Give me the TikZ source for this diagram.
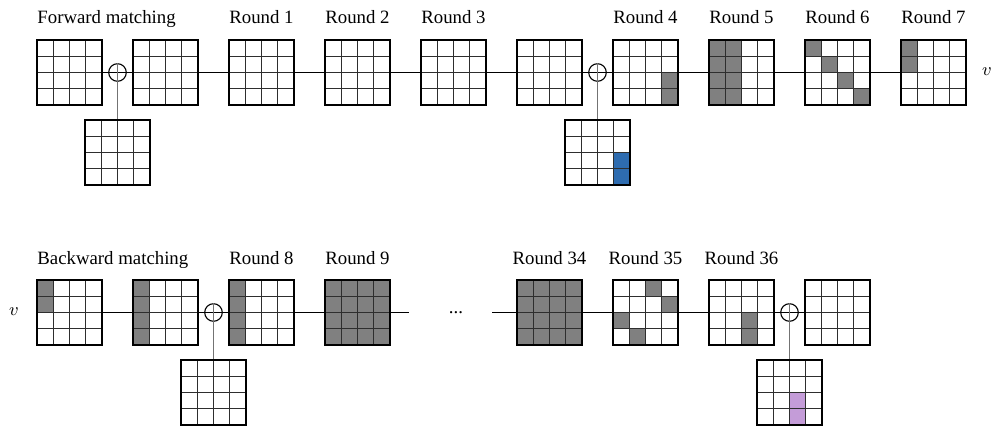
\documentclass[tikz,border=0pt]{standalone}
\usepackage{fontspec}
\setmainfont{Liberation Serif}
\usetikzlibrary{calc}
\definecolor{cellgray}{RGB}{128,128,128}
\definecolor{cellblue}{RGB}{46,108,176}
\definecolor{cellpurple}{RGB}{196,156,216}
\tikzset{
  gridbox/.style={rectangle,minimum width=32.5pt,minimum height=32.5pt,inner sep=0pt,outer sep=0pt,fill=white},
  innerline/.style={line width=0.65pt,draw=black!82},
  borderline/.style={line width=1.15pt,draw=black},
  xorbox/.style={circle,draw=black,line width=0.55pt,minimum size=8.8pt,inner sep=0pt},
  conn/.style={line width=0.5pt,draw=black},
  vconn/.style={line width=0.55pt,draw=black!55},
  lbl/.style={anchor=base,inner sep=0pt,font=\fontsize{9.4}{11}\selectfont},
  lblw/.style={anchor=base west,inner sep=0pt,font=\fontsize{9.4}{11}\selectfont},
}
\newcommand\gridnode[3]{%
  \node[gridbox] (#1) at (#2,#3) {};}
\newcommand\gridlines[1]{%
  \foreach \k in {1,2,3} {
    \draw[innerline] ($(#1.north west)+(\k*16.25,0)$) -- +(0,65);
    \draw[innerline] ($(#1.north west)+(0,\k*16.25)$) -- +(65,0);
  }
  \draw[borderline] (#1.north west) rectangle (#1.south east);}
\newcommand\cellat[4]{%
  \fill[#4] ($(#1.north west)+({(#2-1)*16.25},{(#3-1)*16.25})$) rectangle +(16.25,16.25);}
\begin{document}
\begin{tikzpicture}[x=0.5pt,y=-0.5pt]
\useasboundingbox (0,0) rectangle (1001,432);
% ---------- top row ----------
\gridnode{t0}{69.5}{72.5}
\gridnode{t1}{165.5}{72.5}
\gridnode{r1}{261.5}{72.5}
\gridnode{r2}{357.5}{72.5}
\gridnode{r3}{453.5}{72.5}
\gridnode{t5}{549.5}{72.5}
\gridnode{r4}{645.5}{72.5}
\gridnode{r5}{741.5}{72.5}
\gridnode{r6}{837.5}{72.5}
\gridnode{r7}{933.5}{72.5}
\gridnode{k1}{117.5}{152.5}
\gridnode{k2}{597.5}{152.5}
\node[xorbox] (x1) at (117.5,72.5) {};
\node[xorbox] (x2) at (597.5,72.5) {};
\draw[conn] (t0.east) -- (t1.west);
\draw[conn] (t1.east) -- (r1.west);
\draw[conn] (r1.east) -- (r2.west);
\draw[conn] (r2.east) -- (r3.west);
\draw[conn] (r3.east) -- (t5.west);
\draw[conn] (t5.east) -- (r4.west);
\draw[conn] (r4.east) -- (r5.west);
\draw[conn] (r5.east) -- (r6.west);
\draw[conn] (r6.east) -- (r7.west);
\draw[vconn] (x1.north) -- (k1.north);
\draw[vconn] (x2.north) -- (k2.north);
\cellat{r4}{4}{3}{cellgray}\cellat{r4}{4}{4}{cellgray}
\foreach \r in {1,2,3,4} {\cellat{r5}{1}{\r}{cellgray}\cellat{r5}{2}{\r}{cellgray}}
\foreach \r in {1,2,3,4} {\cellat{r6}{\r}{\r}{cellgray}}
\cellat{r7}{1}{1}{cellgray}\cellat{r7}{1}{2}{cellgray}
\cellat{k2}{4}{3}{cellblue}\cellat{k2}{4}{4}{cellblue}
\foreach \g in {t0,t1,r1,r2,r3,t5,r4,r5,r6,r7,k1,k2} {\gridlines{\g}}
\node[lblw] (lf) at (37,24) {Forward matching};
\node[lbl] (l1) at (261.5,24) {Round 1};
\node[lbl] (l2) at (357.5,24) {Round 2};
\node[lbl] (l3) at (453.5,24) {Round 3};
\node[lbl] (l4) at (645.5,24) {Round 4};
\node[lbl] (l5) at (741.5,24) {Round 5};
\node[lbl] (l6) at (837.5,24) {Round 6};
\node[lbl] (l7) at (933.5,24) {Round 7};
\node[inner sep=0pt,font=\fontsize{9.4}{11}\selectfont] (vt) at (987,72) {$v$};
% ---------- bottom row ----------
\gridnode{b0}{69.5}{312.5}
\gridnode{b1}{165.5}{312.5}
\gridnode{r8}{261.5}{312.5}
\gridnode{r9}{357.5}{312.5}
\gridnode{r34}{549.5}{312.5}
\gridnode{r35}{645.5}{312.5}
\gridnode{r36}{741.5}{312.5}
\gridnode{b9}{837.5}{312.5}
\gridnode{k3}{213.5}{392.5}
\gridnode{k4}{789.5}{392.5}
\node[xorbox] (x3) at (213.5,312.5) {};
\node[xorbox] (x4) at (789.5,312.5) {};
\coordinate (e1) at (409,312.5);
\coordinate (e2) at (492,312.5);
\draw[conn] (b0.east) -- (b1.west);
\draw[conn] (b1.east) -- (r8.west);
\draw[conn] (r8.east) -- (r9.west);
\draw[conn] (r9.east) -- (e1);
\draw[conn] (e2) -- (r34.west);
\draw[conn] (r34.east) -- (r35.west);
\draw[conn] (r35.east) -- (r36.west);
\draw[conn] (r36.east) -- (b9.west);
\draw[vconn] (x3.north) -- (k3.north);
\draw[vconn] (x4.north) -- (k4.north);
\cellat{b0}{1}{1}{cellgray}\cellat{b0}{1}{2}{cellgray}
\foreach \r in {1,2,3,4} {\cellat{b1}{1}{\r}{cellgray}\cellat{r8}{1}{\r}{cellgray}}
\foreach \c in {1,2,3,4} {\foreach \r in {1,2,3,4} {\cellat{r9}{\c}{\r}{cellgray}\cellat{r34}{\c}{\r}{cellgray}}}
\cellat{r35}{3}{1}{cellgray}\cellat{r35}{4}{2}{cellgray}\cellat{r35}{1}{3}{cellgray}\cellat{r35}{2}{4}{cellgray}
\cellat{r36}{3}{3}{cellgray}\cellat{r36}{3}{4}{cellgray}
\cellat{k4}{3}{3}{cellpurple}\cellat{k4}{3}{4}{cellpurple}
\foreach \g in {b0,b1,r8,r9,r34,r35,r36,b9,k3,k4} {\gridlines{\g}}
\node[lblw] (lb) at (37,265) {Backward matching};
\node[lbl] (l8) at (261.5,265) {Round 8};
\node[lbl] (l9) at (357.5,265) {Round 9};
\node[lbl] (l34) at (549.5,265) {Round 34};
\node[lbl] (l35) at (645.5,265) {Round 35};
\node[lbl] (l36) at (741.5,265) {Round 36};
\node[inner sep=0pt,font=\fontsize{9.4}{11}\selectfont] (vb) at (14,312) {$v$};
\node[lbl] (dots) at (456,314) {...};
\end{tikzpicture}
\end{document}
